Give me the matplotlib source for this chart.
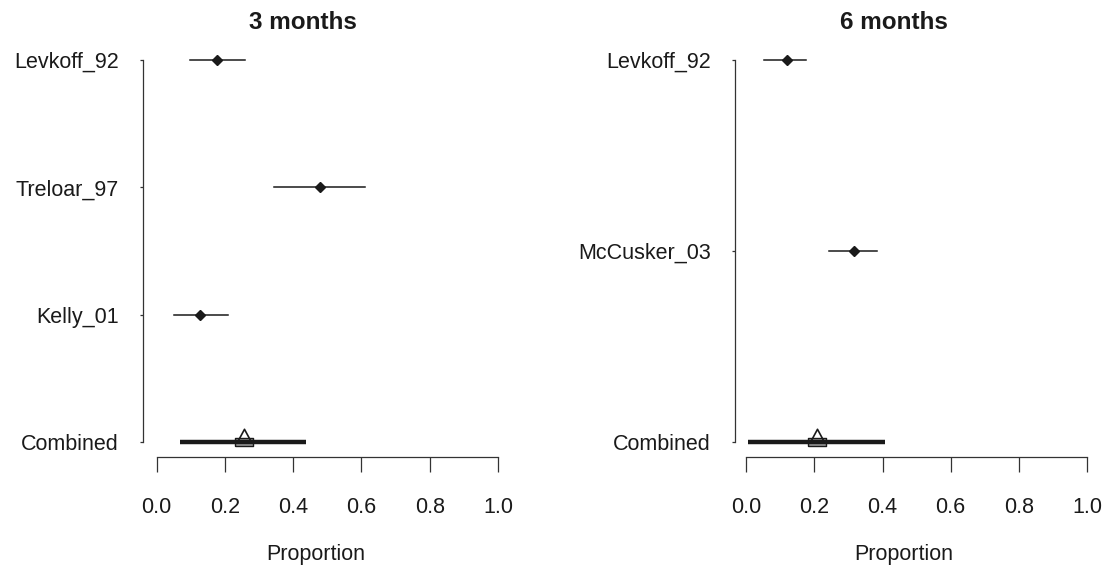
import matplotlib
matplotlib.use("Agg")
import matplotlib.pyplot as plt

plt.rcParams['font.family'] = ['Liberation Sans', 'DejaVu Sans']

# 3 months panel (top to bottom)
studies_3m = ["Levkoff_92", "Treloar_97", "Kelly_01"]
est_3m = [0.178, 0.478, 0.127]
lo_3m = [0.098, 0.344, 0.052]
hi_3m = [0.259, 0.610, 0.210]
comb_3m = 0.256
comb_lo_3m = 0.068
comb_hi_3m = 0.437

# 6 months panel
studies_6m = ["Levkoff_92", "McCusker_03"]
est_6m = [0.119, 0.315]
lo_6m = [0.051, 0.242]
hi_6m = [0.175, 0.383]
comb_6m = 0.207
comb_lo_6m = 0.004
comb_hi_6m = 0.406

xticks = [0.0, 0.2, 0.4, 0.6, 0.8, 1.0]
xticklabels = ["0.0", "0.2", "0.4", "0.6", "0.8", "1.0"]

W, H = 1106, 565
fig = plt.figure(figsize=(W / 100, H / 100), dpi=100)

tri = [(-1, 0), (1, 0), (0, 1.85), (-1, 0)]
box = [(-1, -0.45), (1, -0.45), (1, 0.45), (-1, 0.45), (-1, -0.45)]
ink = '#1a1a1a'


def forest(rect, xlim, names, est, lo, hi, c, clo, chi, title, title_x, lab_x):
    l, b, w, h = rect
    ax = fig.add_axes([l / W, (H - b) / H, w / W, h / H])
    labels = names + ["Combined"]
    n = len(labels)
    ypos = list(range(n, 0, -1))
    for y, e, a, z in zip(ypos[:-1], est, lo, hi):
        ax.plot([a, z], [y, y], color=ink, lw=1.1)
        ax.plot(e, y, marker='D', ms=5.5, color=ink)
    ax.plot(c, 1, marker=box, ms=13, mfc='#9a9a9a', mec=ink, mew=1, ls='none')
    ax.plot([clo, chi], [1, 1], color=ink, lw=3.2, solid_capstyle='butt')
    ax.plot(c, 1, marker=tri, ms=19, mfc='none', mec=ink, mew=1.2, ls='none')

    pad = 0.04 * (n - 1)
    ax.set_ylim(1 - pad, n + pad)
    ax.set_xlim(*xlim)
    for s in ['top', 'right']:
        ax.spines[s].set_visible(False)
    ax.spines['left'].set_bounds(1, n)
    ax.spines['bottom'].set_bounds(0, 1)
    for s in ['left', 'bottom']:
        ax.spines[s].set_color('#333333')
        ax.spines[s].set_linewidth(0.9)
    ax.set_yticks(ypos)
    ax.set_yticklabels(labels)
    ax.set_xticks(xticks)
    ax.set_xticklabels(xticklabels)
    ax.tick_params(axis='y', length=2.5, width=0.9, pad=15, labelsize=15.5,
                   colors='#333333', labelcolor=ink)
    ax.tick_params(axis='x', length=10.8, width=0.9, pad=18, labelsize=15.5,
                   colors='#333333', labelcolor=ink)
    ax.set_xlabel("Proportion", fontsize=15.5, color=ink)
    ax.xaxis.set_label_coords(lab_x, -0.21)
    ax.text(title_x, 1.055, title, transform=ax.transAxes, ha='center',
            va='center', fontsize=17.5, fontweight='bold', color=ink)
    return ax


forest((143, 457.3, 368.65, 412.6), (-0.04, 1.04), studies_3m, est_3m,
       lo_3m, hi_3m, comb_3m, comb_lo_3m, comb_hi_3m, "3 months", 0.434, 0.469)
forest((735, 457.3, 365.6, 412.6), (-0.033, 1.04), studies_6m, est_6m,
       lo_6m, hi_6m, comb_6m, comb_lo_6m, comb_hi_6m, "6 months", 0.435, 0.462)

fig.savefig("out.png", dpi=100)
